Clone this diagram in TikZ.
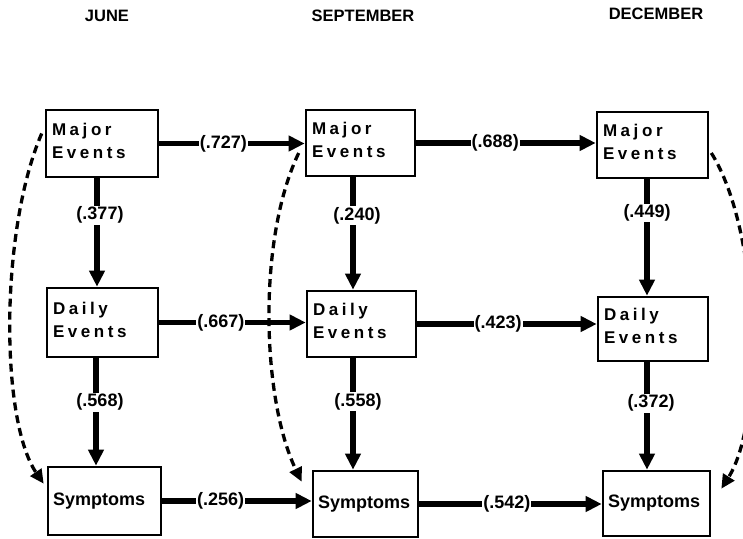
\documentclass[tikz,border=0pt]{standalone}
\usepackage{fontspec}
\setmainfont{Liberation Sans}
\newfontfamily\spacedfont[LetterSpace=21]{Liberation Sans}
\usetikzlibrary{arrows.meta}
\newcommand{\lowstrut}{\rule[-6pt]{0pt}{0pt}}
\begin{document}
\begin{tikzpicture}[x=1pt,y=-1pt,
  box/.style={draw, line width=2.6pt, inner xsep=6pt, inner ysep=0pt, align=left,
    font=\spacedfont\bfseries\fontsize{17}{23}\selectfont},
  sbox/.style={draw, line width=2.6pt, inner xsep=5pt, inner ysep=0pt, align=left,
    font=\bfseries\fontsize{18}{22}\selectfont},
  conn/.style={line width=5.5pt, -{Triangle[length=16pt,width=15pt]}},
  dconn/.style={line width=3.3pt, dash pattern=on 8pt off 5pt, -{Triangle[length=14pt,width=13pt]}},
  lab/.style={fill=white, inner sep=1pt, font=\bfseries\fontsize{18}{20}\selectfont},
  title/.style={font=\bfseries\fontsize{16.5}{18}\selectfont}]
\clip (0,0) rectangle (743,538);

% titles
\node[title] (t1) at (107,16) {JUNE};
\node[title] (t2) at (363,16) {SEPTEMBER};
\node[title] (t3) at (656,14) {DECEMBER};

% boxes
\node[box, minimum width=112pt, minimum height=67pt, text width=100pt] (jm) at (102,143.5) {Major\\Events\lowstrut};
\node[box, minimum width=109pt, minimum height=66pt, text width=97pt] (sm) at (360.5,143) {Major\\Events\lowstrut};
\node[box, minimum width=111pt, minimum height=66pt, text width=99pt] (dm) at (652.5,145) {Major\\Events\lowstrut};
\node[box, minimum width=111pt, minimum height=69pt, text width=99pt] (jd) at (102.5,322.5) {Daily\\Events\lowstrut};
\node[box, minimum width=109pt, minimum height=66pt, text width=97pt] (sd) at (361.5,324) {Daily\\Events\lowstrut};
\node[box, minimum width=110pt, minimum height=64pt, text width=98pt] (dd) at (653,329) {Daily\\Events\lowstrut};
\node[sbox, minimum width=113pt, minimum height=68pt, text width=103pt] (js) at (104.5,501) {Symptoms};
\node[sbox, minimum width=105pt, minimum height=66pt, text width=95pt] (ss) at (365.5,504) {Symptoms};
\node[sbox, minimum width=107pt, minimum height=65pt, text width=97pt] (ds) at (656.5,503.5) {Symptoms};

% horizontal arrows
\draw[conn] (jm.east) -- node[lab, pos=0.44] (l1) {(.727)} (jm.east -| sm.west);
\draw[conn] (sm.east) -- node[lab, pos=0.44] (l2) {(.688)} (sm.east -| dm.west);
\draw[conn] (jd.east) -- node[lab, pos=0.42] (l3) {(.667)} (jd.east -| sd.west);
\draw[conn] (sd.east) -- node[lab, pos=0.45] (l4) {(.423)} (sd.east -| dd.west);
\draw[conn] (js.east) -- node[lab, pos=0.39] (l5) {(.256)} (js.east -| ss.west);
\draw[conn] (ss.east) -- node[lab, pos=0.48] (l6) {(.542)} (ss.east -| ds.west);

% vertical arrows
\draw[conn] ([xshift=-5pt]jm.south) -- node[lab, pos=0.34, xshift=3pt] (l7) {(.377)} ([xshift=-5pt]jm.south |- jd.north);
\draw[conn] ([xshift=-7.5pt]sm.south) -- node[lab, pos=0.34, xshift=4pt] (l8) {(.240)} ([xshift=-7.5pt]sm.south |- sd.north);
\draw[conn] ([xshift=-5.5pt]dm.south) -- node[lab, pos=0.29] (l9) {(.449)} ([xshift=-5.5pt]dm.south |- dd.north);
\draw[conn] ([xshift=-6.5pt]jd.south) -- node[lab, pos=0.41, xshift=4pt] (l10) {(.568)} ([xshift=-6.5pt]jd.south |- js.north);
\draw[conn] ([xshift=-8.5pt]sd.south) -- node[lab, pos=0.39, xshift=5pt] (l11) {(.558)} ([xshift=-8.5pt]sd.south |- ss.north);
\draw[conn] ([xshift=-6pt]dd.south) -- node[lab, pos=0.38, xshift=4pt] (l12) {(.372)} ([xshift=-6pt]dd.south |- ds.north);

% dashed lagged paths
\draw[dconn] ([shift={(-3,-10)}]jm.west) .. controls (0,230) and (0,420) .. ([shift={(-3,18)}]js.north west);
\draw[dconn] ([shift={(-6,10)}]sm.west) .. controls (257,240) and (262,400) .. ([shift={(-10,12)}]ss.north west);
\draw[dconn] ([shift={(2,8)}]dm.east) .. controls (760,230) and (765,420) .. ([shift={(10,19)}]ds.north east);
\end{tikzpicture}
\end{document}
